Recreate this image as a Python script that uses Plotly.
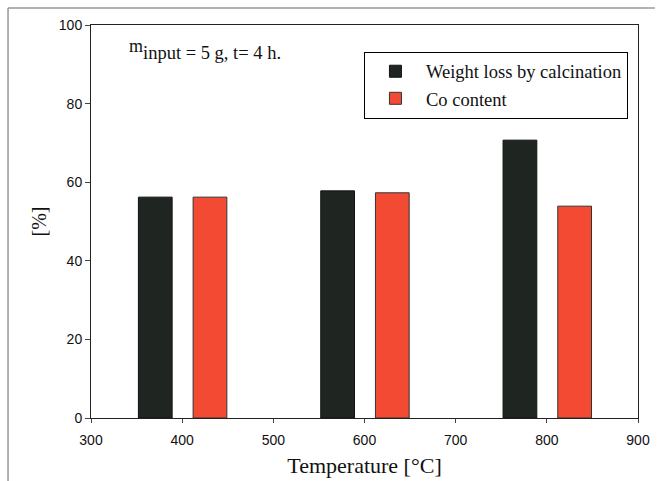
import plotly.graph_objects as go

temps = [400, 600, 800]
weight_loss = [56.2, 57.8, 70.7]
co_content = [56.2, 57.3, 53.9]
series_names = ["Weight loss by calcination", "Co content"]
x_ticks = [300, 400, 500, 600, 700, 800, 900]
y_ticks = [0, 20, 40, 60, 80, 100]

serif = "Liberation Serif"
sans = "Liberation Sans"

fig = go.Figure()
fig.add_trace(go.Bar(
    x=temps, y=weight_loss, name=series_names[0], offset=-48, width=37,
    marker=dict(color="#1f2622", line=dict(color="#111", width=1)),
))
fig.add_trace(go.Bar(
    x=temps, y=co_content, name=series_names[1], offset=12, width=37,
    marker=dict(color="#f24a33", line=dict(color="#333", width=1)),
))

fig.update_layout(
    width=664, height=481,
    margin=dict(l=91, r=26, t=25, b=63),
    paper_bgcolor="white", plot_bgcolor="white",
    barmode="overlay",
    showlegend=True,
    legend=dict(
        x=0.499, y=0.932, xanchor="left", yanchor="top",
        bgcolor="white", bordercolor="black", borderwidth=1,
        font=dict(family=serif, size=18.5, color="#111"),
        itemwidth=51,
    ),
    xaxis=dict(
        range=[300, 900], tickvals=x_ticks, ticks="outside", ticklen=4,
        ticklabelstandoff=5, automargin=False,
        showline=True, linecolor="#222", linewidth=1, mirror=True,
        showgrid=False, zeroline=False,
        tickfont=dict(family=sans, size=14, color="#111"),
        title=dict(text="Temperature [°C]", font=dict(family=serif, size=22, color="#111"), standoff=10),
    ),
    yaxis=dict(
        range=[0, 100], tickvals=y_ticks, ticks="outside", ticklen=5,
        automargin=False,
        showline=True, linecolor="#222", linewidth=1, mirror=True,
        showgrid=False, zeroline=False,
        tickfont=dict(family=sans, size=14, color="#111"),
        title=dict(text="[%]", font=dict(family=serif, size=20, color="#111"), standoff=6),
    ),
)

fig.add_annotation(
    xref="paper", yref="paper", x=0.0658, y=0.9466, xanchor="left", yanchor="middle",
    text="m", showarrow=False,
    font=dict(family=serif, size=18, color="#111"),
)
fig.add_annotation(
    xref="paper", yref="paper", x=0.0914, y=0.9288, xanchor="left", yanchor="middle",
    text="input = 5 g, t= 4 h.", showarrow=False,
    font=dict(family=serif, size=18.5, color="#111"),
)

# scanned page frame
fig.add_shape(type="line", xref="paper", yref="paper", x0=-0.1517, x1=1.031, y0=1.043, y1=1.043,
              line=dict(color="#999", width=1.5))
fig.add_shape(type="line", xref="paper", yref="paper", x0=-0.1517, x1=-0.1517, y0=1.043, y1=-0.16,
              line=dict(color="#999", width=1.5))

fig.write_html("out.html")
